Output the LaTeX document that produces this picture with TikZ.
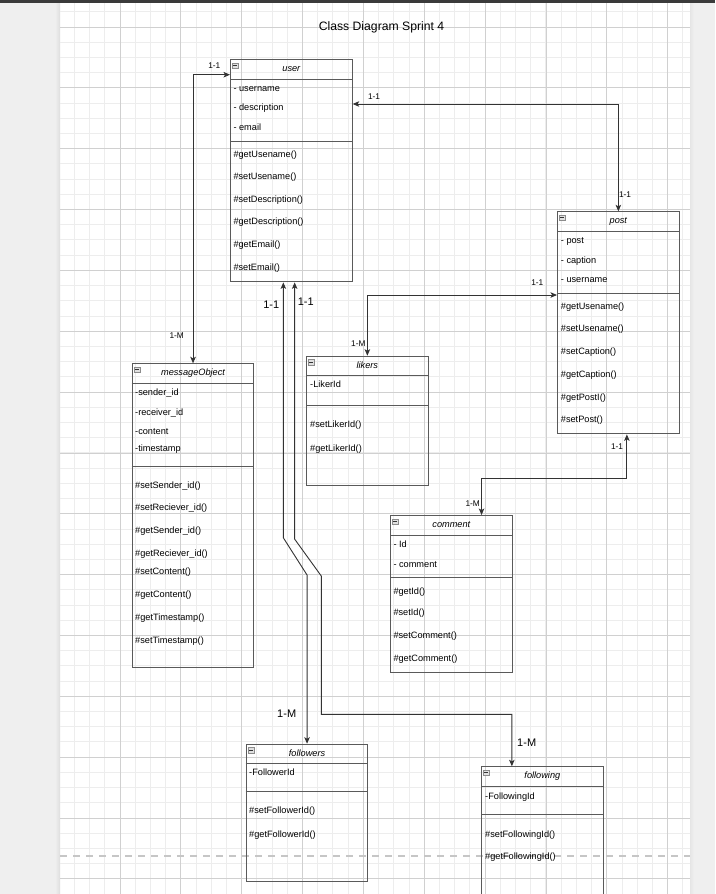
\documentclass[tikz,border=0pt]{standalone}
\usepackage{fontspec}
\setmainfont{Liberation Sans}
\usetikzlibrary{arrows.meta,calc}

\definecolor{pagegray}{HTML}{EFEFEF}
\definecolor{gridminor}{HTML}{EDEDED}
\definecolor{gridmajor}{HTML}{D0D0D0}
\definecolor{boxline}{HTML}{5A5A5A}
\definecolor{wire}{HTML}{333333}
\definecolor{topbar}{HTML}{3A3A3A}
\definecolor{breakline}{HTML}{C6C6C6}

% header rule, divider rule, collapse toggle and italic name of a class box
\newcommand{\classrules}[4]{%
  \draw[compline] ($(#1.north west)+(0,#2)$) -- ($(#1.north east)+(0,#2)$);
  \draw[compline] ($(#1.north west)+(0,#3)$) -- ($(#1.north east)+(0,#3)$);
  \node[collapse, anchor=north west] (#1-toggle) at ($(#1.north west)+(2,3.5)$) {};
  \node[classname] (#1-name) at ($(#1.north)+(0,9.8)$) {#4};
}

\begin{document}
\begin{tikzpicture}[x=1pt,y=-1pt,
  classbox/.style={draw=boxline, line width=1.1pt, rectangle, inner sep=0pt,
    anchor=north west, minimum width=121.6pt},
  compline/.style={draw=boxline, line width=1pt},
  classname/.style={font=\itshape\fontsize{9.2}{11}\selectfont, inner sep=0pt,
    text height=6pt, text depth=0.4pt},
  member/.style={font=\fontsize{9.2}{11}\selectfont, anchor=west, inner sep=0pt,
    text height=6pt, text depth=0.4pt},
  tag/.style={font=\fontsize{8.3}{10}\selectfont, inner sep=0pt},
  bigtag/.style={font=\fontsize{11}{13}\selectfont, inner sep=0pt},
  conn/.style={draw=wire, line width=0.9pt,
    {Stealth[length=6.5pt,width=5.5pt,inset=1.6pt]}-{Stealth[length=6.5pt,width=5.5pt,inset=1.6pt]}},
  collapse/.style={draw=black!45, fill=black!12, line width=0.5pt, rectangle,
    minimum width=6pt, minimum height=5.5pt, inner sep=0pt,
    path picture={\draw[black!80, line width=0.9pt]
      ([xshift=1pt]path picture bounding box.west) --
      ([xshift=-1pt]path picture bounding box.east);}}
]
\useasboundingbox (0,0) rectangle (715,894);
\clip (0,0) rectangle (715,894);

% page and surrounding area
\fill[pagegray] (0,0) rectangle (715,894);
\fill[white] (60,0) rectangle (690,894);
\shade[left color=pagegray, right color=black!13] (55,0) rectangle (60,894);
\shade[left color=black!10, right color=pagegray] (690,0) rectangle (694,894);

% grid
\begin{scope}
  \clip (60,0) rectangle (690,894);
  \foreach \k in {-4,...,37}
    \draw[gridminor, line width=1pt] ({120+15.2125*\k},0) -- ++(0,894);
  \foreach \k in {-2,...,57}
    \draw[gridminor, line width=1pt] (60,{27+15.2125*\k}) -- ++(630,0);
  \foreach \k in {-1,...,9}
    \draw[gridmajor, line width=0.9pt] ({120+60.85*\k},0) -- ++(0,894);
  \foreach \k in {-1,...,14}
    \draw[gridmajor, line width=0.9pt] (60,{27+60.85*\k}) -- ++(630,0);
\end{scope}

% page break
\draw[breakline, line width=1.6pt, dash pattern=on 7pt off 6pt] (60,856) -- (690,856);

% window edge
\fill[topbar] (0,0) rectangle (715,2.5);

% title
\node[font=\fontsize{12.2}{14}\selectfont, inner sep=0pt] (title) at (381.5,27.5) {Class Diagram Sprint 4};

% ---------- user ----------
\node[classbox, minimum height=222pt] (user) at (230,59.3) {};
\classrules{user}{20}{82}{user}
\foreach \yy/\t [count=\i] in {89/- username, 108/- description, 127.7/- email}
  \node[member] (user-a\i) at (233.3,\yy) {\t};
\foreach \yy/\t [count=\i] in {154.3/\#getUsename(), 176.7/\#setUsename(),
    200/\#setDescription(), 222/\#getDescription(), 245/\#getEmail(), 267.7/\#setEmail()}
  \node[member] (user-m\i) at (233.3,\yy) {\t};

% ---------- post ----------
\node[classbox, minimum height=222pt] (post) at (557,211.3) {};
\classrules{post}{20}{82}{post}
\foreach \yy/\t [count=\i] in {241/- post, 261/- caption, 280/- username}
  \node[member] (post-a\i) at (560.7,\yy) {\t};
\foreach \yy/\t [count=\i] in {306.7/\#getUsename(), 329/\#setUsename(),
    352/\#setCaption(), 374.7/\#getCaption(), 397.3/\#getPostI(), 419.7/\#setPost()}
  \node[member] (post-m\i) at (560.7,\yy) {\t};

% ---------- messageObject ----------
\node[classbox, minimum height=304pt] (msg) at (131.7,363.3) {};
\classrules{msg}{20}{102.7}{messageObject}
\foreach \yy/\t [count=\i] in {392.7/-sender\_id, 412.7/-receiver\_id, 432/-content, 448.7/-timestamp}
  \node[member] (msg-a\i) at (135,\yy) {\t};
\foreach \yy/\t [count=\i] in {485.7/\#setSender\_id(), 508/\#setReciever\_id(),
    530.7/\#getSender\_id(), 553.3/\#getReciever\_id(), 571.7/\#setContent(),
    595/\#getContent(), 617.7/\#getTimestamp(), 641/\#setTimestamp()}
  \node[member] (msg-m\i) at (135,\yy) {\t};

% ---------- likers ----------
\node[classbox, minimum height=129.3pt] (likers) at (306,355.7) {};
\classrules{likers}{19.3}{49.6}{likers}
\node[member] (likers-a1) at (310,384.3) {-LikerId};
\node[member] (likers-m1) at (310,425) {\#setLikerId()};
\node[member] (likers-m2) at (310,448.3) {\#getLikerId()};

% ---------- comment ----------
\node[classbox, minimum height=157.3pt] (comment) at (390,515) {};
\classrules{comment}{20.3}{62.7}{comment}
\node[member] (comment-a1) at (393.3,545) {- Id};
\node[member] (comment-a2) at (393.3,565) {- comment};
\foreach \yy/\t [count=\i] in {591.3/\#getId(), 613/\#setId(), 635.7/\#setComment(), 658.7/\#getComment()}
  \node[member] (comment-m\i) at (393.3,\yy) {\t};

% ---------- followers ----------
\node[classbox, minimum height=137pt] (followers) at (245.7,743.7) {};
\classrules{followers}{19.6}{47.6}{followers}
\node[member] (followers-a1) at (249,772.7) {-FollowerId};
\node[member] (followers-m1) at (249,810.7) {\#setFollowerId()};
\node[member] (followers-m2) at (249,834.3) {\#getFollowerId()};

% ---------- following ----------
\node[classbox, minimum height=140pt] (following) at (481,766.3) {};
\classrules{following}{20}{48}{following}
\node[member] (following-a1) at (485,796.3) {-FollowingId};
\node[member] (following-m1) at (485,834.3) {\#setFollowingId()};
\node[member] (following-m2) at (485,856.7) {\#getFollowingId()};

% ---------- associations ----------
\coordinate (user-p1) at ($(user.north west)+(0,15.4)$);
\draw[conn] (user-p1) -| (msg.north);

\coordinate (user-p2) at ($(user.north east)+(0,44.7)$);
\draw[conn] (user-p2) -| (post.north);

\coordinate (post-p1) at ($(post.north west)+(0,83.7)$);
\draw[conn] (post-p1) -| (likers.north);

\coordinate (post-p2) at ($(post.south)+(8.5,0)$);
\coordinate (comment-p1) at ($(comment.north)+(30.2,0)$);
\draw[conn] (post-p2) -- ++(0,44.4) -| (comment-p1);

\coordinate (user-p3) at ($(user.south)+(-8,0)$);
\draw[conn] (user-p3) -- ++(0,255.4) -- ($(followers.north)+(0,-168.7)$) -- (followers.north);

\coordinate (user-p4) at ($(user.south)+(3.3,0)$);
\coordinate (following-p1) at ($(following.north)+(-30.5,0)$);
\draw[conn] (user-p4) -- ++(0,256.7) -- ++(26.7,37) -- ++(0,138.3) -| (following-p1);

% multiplicities
\node[tag] (t1) at (214.3,65.7) {1-1};
\node[tag] (t2) at (374,96.7) {1-1};
\node[tag] (t3) at (625,194.7) {1-1};
\node[tag] (t4) at (537.3,282.3) {1-1};
\node[tag] (t5) at (176.7,335.7) {1-M};
\node[tag] (t6) at (358.3,344) {1-M};
\node[tag] (t7) at (617,446.7) {1-1};
\node[tag] (t8) at (472.7,503.3) {1-M};
\node[bigtag] (t9) at (271.3,305) {1-1};
\node[bigtag] (t10) at (305.7,302) {1-1};
\node[bigtag] (t11) at (286.7,713.3) {1-M};
\node[bigtag] (t12) at (526.7,742.7) {1-M};
\end{tikzpicture}
\end{document}
